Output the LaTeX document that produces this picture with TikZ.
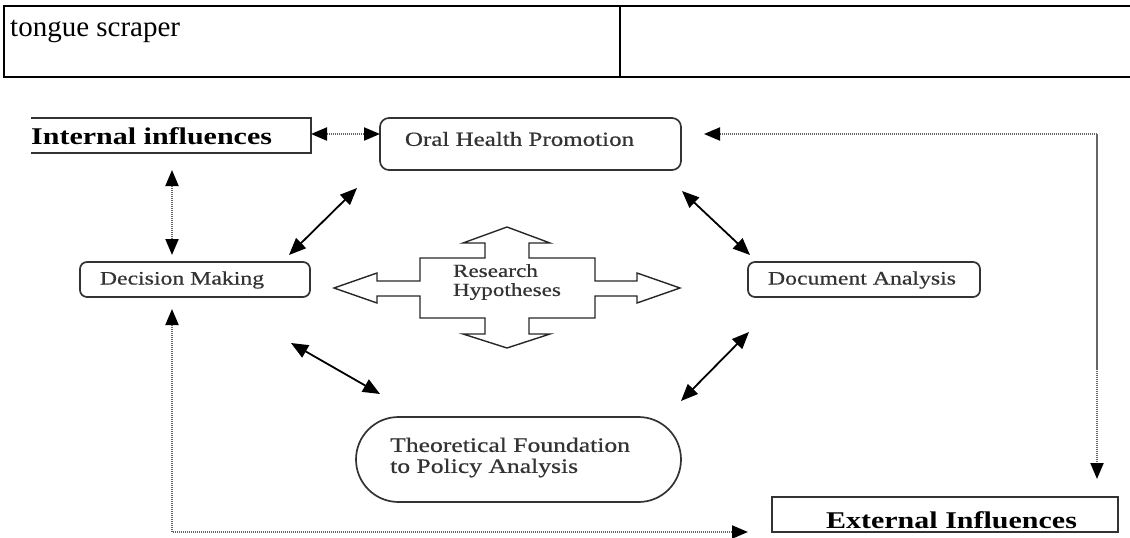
\documentclass[tikz,border=0pt]{standalone}
\usepackage{fontspec}
\setmainfont{Liberation Serif}
\newfontfamily\wideserif[FakeStretch=1.25,FakeBold=0.6]{Liberation Serif}
\newfontfamily\widebold[FakeStretch=1.25]{Liberation Serif Bold}
\usetikzlibrary{arrows.meta}
\begin{document}
\begin{tikzpicture}[x=1pt,y=-1pt,
  rbox/.style={draw=black!80, line width=1.7pt, rounded corners=9pt, inner sep=0pt},
  sbox/.style={draw=black!80, line width=1.7pt, inner sep=0pt},
  lbl/.style={font=\wideserif\fontsize{19}{20}\selectfont, inner sep=0pt, text=black!80},
  blbl/.style={font=\widebold\fontsize{24}{28}\selectfont, inner sep=0pt, text=black},
  dotl/.style={draw=black!60, line width=2pt, dash pattern=on 1.2pt off 0.8pt,
     >={Triangle[length=16pt,width=13pt,color=black]}},
  solidarr/.style={draw=black, line width=1.8pt, <->,
     >={Triangle[length=17pt,width=14pt]}},
  tline/.style={draw=black, line width=2.2pt}
]
\useasboundingbox (0,0) rectangle (1130,538);
% table
\draw[tline] (1130,6) -- (4,6) -- (4,77) -- (1130,77);
\draw[tline] (620,6) -- (620,77);
\node[anchor=base west, inner sep=0pt, font=\fontsize{29}{32}\selectfont] (tongue) at (10,36) {tongue scraper};

% boxes
\draw[sbox] (31,118) -- (311,118) -- (311,153) -- (31,153);
\node[inner sep=0pt, minimum width=280pt, minimum height=35pt] (intl) at (171,135.5) {};
\node[blbl, anchor=west] (intltxt) at (31,136.5) {Internal influences};

\node[rbox, minimum width=301pt, minimum height=52pt] (oral) at (530.5,144) {};
\node[lbl, font=\wideserif\fontsize{20}{22}\selectfont] (oraltxt) at (519.5,139) {Oral Health Promotion};

\node[rbox, rounded corners=7pt, minimum width=230pt, minimum height=35pt] (dec) at (195,279.5) {};
\node[lbl] (dectxt) at (182,280) {Decision Making};

\node[rbox, rounded corners=7pt, minimum width=232pt, minimum height=35pt] (doc) at (864,279.5) {};
\node[lbl] (doctxt) at (862,280) {Document Analysis};

\node[rbox, rounded corners=42.5pt, minimum width=325pt, minimum height=85pt] (theo) at (518.5,459.5) {};
\node[lbl, font=\wideserif\fontsize{20.5}{21}\selectfont, align=left, anchor=west] (theotxt) at (390,457.5) {Theoretical Foundation\\to Policy Analysis};

\node[sbox, minimum width=346pt, minimum height=35pt] (ext) at (945,514.5) {};
\node[blbl] (exttxt) at (951.5,520) {External Influences};

% central cross
\draw[draw=black!85, line width=1.4pt, line join=miter]
 (334,288) -- (377,273) -- (377,281) -- (420,281) -- (420,258) -- (485,258) -- (485,243) -- (463,243) -- (507,227) -- (550,243) -- (529,243) -- (529,258) -- (595,258) -- (595,281) -- (637,281) -- (637,273) -- (680,288) -- (637,303) -- (637,296) -- (595,296) -- (595,318) -- (529,318) -- (529,334) -- (550,334) -- (507,348) -- (463,334) -- (485,334) -- (485,318) -- (420,318) -- (420,296) -- (377,296) -- (377,303) -- cycle;
\node[lbl, align=left, font=\wideserif\fontsize{18.5}{19}\selectfont] (hyp) at (507,282) {Research\\Hypotheses};

% endpoints
\coordinate (a1) at (311,134); \coordinate (a2) at (380,134);
\coordinate (b1) at (704,134); \coordinate (b2) at (1097,134); \coordinate (b3) at (1097,479);
\coordinate (c1) at (172,170); \coordinate (c2) at (172,255);
\coordinate (d1) at (172,309); \coordinate (d2) at (172,532); \coordinate (d3) at (748,532);
\coordinate (e1) at (357,188); \coordinate (e2) at (289,255);
\coordinate (f1) at (682,191); \coordinate (f2) at (750,255);
\coordinate (g1) at (291,343); \coordinate (g2) at (380,394);
\coordinate (h1) at (749,332); \coordinate (h2) at (681,401);

% dotted connectors
\draw[dotl, <->] (a1) -- (a2);
\draw[dotl, <->] (b1) -- (b2) -- (b3);
\draw[dotl, <->] (c1) -- (c2);
\draw[dotl, <->] (d1) -- (d2) -- (d3);

% solid connectors
\draw[solidarr] (e1) -- (e2);
\draw[solidarr] (f1) -- (f2);
\draw[solidarr] (g1) -- (g2);
\draw[solidarr] (h1) -- (h2);
\end{tikzpicture}
\end{document}
